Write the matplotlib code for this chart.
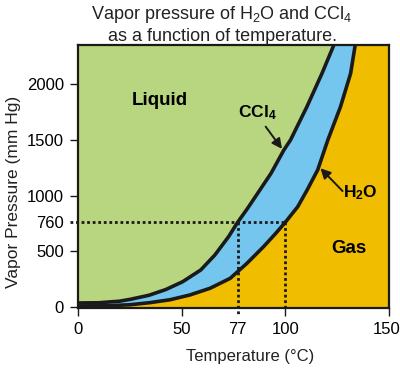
import matplotlib
matplotlib.use("Agg")
import matplotlib.pyplot as plt
from matplotlib.transforms import ScaledTranslation

plt.rcParams['font.family'] = ['Liberation Sans', 'DejaVu Sans']
plt.rcParams['mathtext.fontset'] = 'custom'
plt.rcParams['mathtext.rm'] = 'Liberation Sans'
plt.rcParams['mathtext.bf'] = 'Liberation Sans:bold'
plt.rcParams['mathtext.default'] = 'regular'

# vapor pressure curves (T in deg C, P in mm Hg)
ccl4_t = [0, 10, 20, 25, 34.2, 42.4, 50.5, 59.2, 66.0, 72.6, 77, 81.8, 93.1, 99.3, 102.5, 110.4, 117.7, 123.4]
ccl4_p = [36, 38, 52, 68, 105, 157, 227, 332, 466, 630, 760, 885, 1199, 1408, 1498, 1796, 2096, 2350]
h2o_t = [0, 15, 25, 34.7, 44.4, 54, 63.7, 73.4, 81.5, 89.5, 95.4, 100, 106, 110.5, 115.6, 120.5, 126.6, 131.5, 133.7]
h2o_p = [9, 12, 20, 39, 65, 108, 168, 257, 392, 541, 661, 760, 900, 1049, 1229, 1498, 1796, 2096, 2350]

x_ticks = [0, 50, 77, 100, 150]
y_ticks = [0, 500, 760, 1000, 1500, 2000]
p_top = 2350

green = '#b8d680'
blue = '#74c6ef'
gold = '#f1bd00'
dark = '#1a1a1a'

fig = plt.figure(figsize=(4, 3.69), dpi=100)
ax = fig.add_axes([78/400, 61/369, 311/400, 263/369])
ax.set_facecolor(gold)

# liquid region (left of CCl4) and the band between the two curves
ax.fill(ccl4_t + [0], ccl4_p + [p_top], color=green, lw=0)
ax.fill(ccl4_t + h2o_t[::-1], ccl4_p + h2o_p[::-1], color=blue, lw=0)

# dotted guides for the normal boiling points
dot = (0, (1, 1))
ax.plot([-4, 100], [760, 760], ls=dot, lw=2, color=dark, clip_on=False, zorder=3)
ax.plot([77, 77], [760, -80], ls=dot, lw=2, color=dark, clip_on=False, zorder=3)
ax.plot([100, 100], [760, -9], ls=dot, lw=2, color=dark, clip_on=False, zorder=3)

ax.plot(ccl4_t, ccl4_p, color=dark, lw=2.6, solid_joinstyle='round', zorder=4)
ax.plot(h2o_t, h2o_p, color=dark, lw=2.6, solid_joinstyle='round', zorder=4)

ax.set_xlim(0, 150)
ax.set_ylim(-9, p_top)
ax.set_xticks(x_ticks)
ax.set_yticks(y_ticks)
ax.tick_params(direction='out', length=6, width=1, pad=4, labelsize=12, color=dark)
ax.xaxis.get_major_ticks()[2].tick1line.set_visible(False)
ax.yaxis.get_major_ticks()[2].tick1line.set_visible(False)
last = ax.get_xticklabels()[-1]
last.set_transform(last.get_transform() + ScaledTranslation(-2/72, 0, fig.dpi_scale_trans))
for s in ax.spines.values():
    s.set_linewidth(1.6)
    s.set_color(dark)

ax.text(39.5, 1856, 'Liquid', fontsize=13.5, fontweight='bold', ha='center', va='center')
ax.text(130.5, 529, 'Gas', fontsize=13.5, fontweight='bold', ha='center', va='center')
ax.text(86.5, 1740, r'CCl$_{\mathbf{4}}$', fontsize=12.5, fontweight='bold', ha='center', va='center')
ax.text(136.3, 1022, r'H$_{\mathbf{2}}$O', fontsize=12.5, fontweight='bold', ha='center', va='center')

arrow = dict(arrowstyle='-|>,head_length=0.5,head_width=0.25', color=dark, lw=1.4,
             mutation_scale=12, shrinkA=0, shrinkB=0)
ax.annotate('', xy=(98.4, 1418), xytext=(90.5, 1618), arrowprops=arrow)
ax.annotate('', xy=(116.9, 1245), xytext=(127.6, 1040), arrowprops=arrow)

fig.text(222/400, 1 - 4/369, 'Vapor pressure of H$_2$O and CCl$_4$\nas a function of temperature.',
         ha='center', va='top', fontsize=13, color='#222222')
fig.text(14/400, 1 - 192/369, 'Vapor Pressure (mm Hg)', rotation=90,
         ha='center', va='center', fontsize=12.5, color='#222222')
fig.text(250/400, 1 - 357/369, 'Temperature (°C)', ha='center', va='center',
         fontsize=12, color='#222222')

fig.savefig('out.png', dpi=100)
